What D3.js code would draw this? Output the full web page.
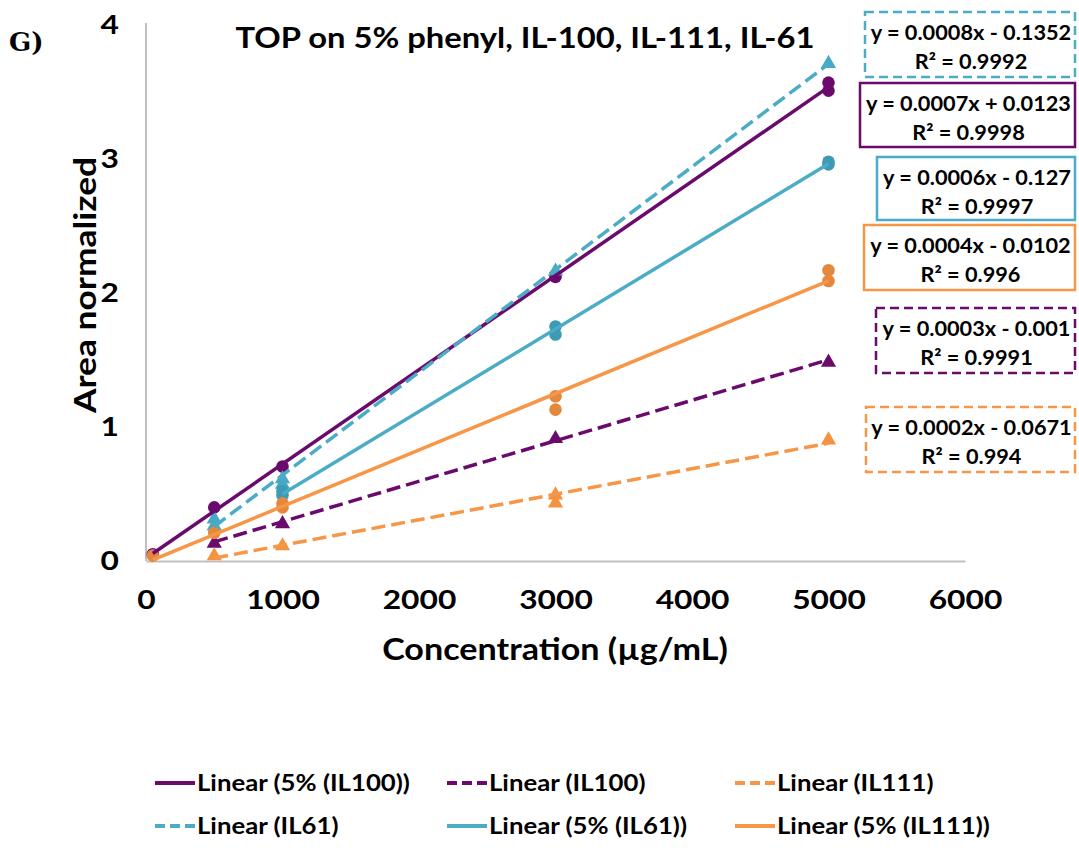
<!DOCTYPE html>
<html>
<head>
<meta charset="utf-8">
<script src="https://cdn.jsdelivr.net/npm/d3@7/dist/d3.min.js"></script>
<style>
  body { margin: 0; background: #fff; }
  svg { display: block; font-family: Lato, "Open Sans", sans-serif; font-weight: bold; }
</style>
</head>
<body>
<svg id="chart" width="1079" height="863"></svg>
<script>
// concentration (ug/mL) vs normalized area, replicate injections kept as separate points
var il100_5_x = [50, 500, 1000, 3000, 5000, 5000];
var il100_5_y = [0.05, 0.40, 0.705, 2.12, 3.51, 3.57];

var il100_x = [500, 1000, 3000, 5000];
var il100_y = [0.14, 0.285, 0.92, 1.49];

var il111_x = [500, 1000, 3000, 3000, 5000];
var il111_y = [0.045, 0.12, 0.50, 0.44, 0.91];

var il61_x = [500, 500, 1000, 1000, 3000, 5000];
var il61_y = [0.32, 0.27, 0.62, 0.58, 2.17, 3.72];

var il61_5_x = [1000, 1000, 3000, 3000, 5000, 5000];
var il61_5_y = [0.49, 0.52, 1.75, 1.69, 2.98, 2.96];

var il111_5_x = [50, 500, 1000, 1000, 3000, 3000, 5000, 5000];
var il111_5_y = [0.04, 0.21, 0.40, 0.43, 1.23, 1.13, 2.17, 2.09];

var seriesNames = ["5% (IL100)", "IL100", "IL111", "IL61", "5% (IL61)", "5% (IL111)"];

// trendline equations as printed next to the plot
var eqLabels = ["y = 0.0007x + 0.0123", "y = 0.0003x - 0.001", "y = 0.0002x - 0.0671",
                "y = 0.0008x - 0.1352", "y = 0.0006x - 0.127", "y = 0.0004x - 0.0102"];
var r2Labels = ["R² = 0.9998", "R² = 0.9991", "R² = 0.994",
                "R² = 0.9992", "R² = 0.9997", "R² = 0.996"];

var xTicks = [0, 1000, 2000, 3000, 4000, 5000, 6000];
var yTicks = [0, 1, 2, 3, 4];

var purple = "#6b0a6d", cyan = "#4bacc6", orange = "#f79646";

var series = [
  { name: seriesNames[0], xs: il100_5_x, ys: il100_5_y, color: purple, mark: "#6b0a6d", dashed: false, shape: "circle" },
  { name: seriesNames[1], xs: il100_x,   ys: il100_y,   color: purple, mark: "#6b0a6d", dashed: true,  shape: "triangle" },
  { name: seriesNames[2], xs: il111_x,   ys: il111_y,   color: orange, mark: "#f5923f", dashed: true,  shape: "triangle" },
  { name: seriesNames[3], xs: il61_x,    ys: il61_y,    color: cyan,   mark: "#48a9c4", dashed: true,  shape: "triangle" },
  { name: seriesNames[4], xs: il61_5_x,  ys: il61_5_y,  color: cyan,   mark: "#3d9bb5", dashed: false, shape: "circle" },
  { name: seriesNames[5], xs: il111_5_x, ys: il111_5_y, color: orange, mark: "#e3883c", dashed: false, shape: "circle" }
];
series.forEach(function(s, i) { s.eq = eqLabels[i]; s.r2 = r2Labels[i]; });

// equation boxes, top to bottom: [series index, left, top, bottom]
var boxes = [[3, 865, 12, 77], [0, 860, 83, 147], [4, 877, 157, 220],
             [5, 864, 225, 290], [1, 876, 308, 373], [2, 866, 407, 472]];
var boxRight = 1075;

var svg = d3.select("#chart");

var x = d3.scaleLinear().domain([0, 6000]).range([146, 965]);
var y = d3.scaleLinear().domain([0, 4]).range([561, 25]);

// least squares fit, same as the spreadsheet trendline
function fit(xs, ys) {
  var mx = d3.mean(xs), my = d3.mean(ys), sxx = 0, sxy = 0;
  xs.forEach(function(v, i) { sxx += (v - mx) * (v - mx); sxy += (v - mx) * (ys[i] - my); });
  var b = sxy / sxx;
  return { slope: b, intercept: my - b * mx };
}

// the labels are set in a wide face, so stretch the glyphs sideways
function widen(sel, k) {
  sel.each(function() {
    var w = this.getComputedTextLength();
    d3.select(this).attr("textLength", w * k).attr("lengthAdjust", "spacingAndGlyphs");
  });
}

// axes
var xAxis = svg.append("g")
  .attr("transform", "translate(0," + y(0) + ")")
  .call(d3.axisBottom(x).tickValues(xTicks).tickSize(0).tickPadding(30).tickFormat(d3.format("d")));
var yAxis = svg.append("g")
  .attr("transform", "translate(" + x(0) + ",0)")
  .call(d3.axisLeft(y).tickValues(yTicks).tickSize(0).tickPadding(27).tickFormat(d3.format("d")));

[xAxis, yAxis].forEach(function(a) {
  a.select(".domain").attr("stroke", "#c0c0c0").attr("stroke-width", 2);
  a.selectAll("text").attr("font-size", 26).attr("font-family", "Lato").attr("font-weight", "bold").attr("fill", "#000");
  widen(a.selectAll("text"), 1.22);
});
yAxis.select(".domain").attr("d", "M0," + y(0) + "V" + (y(4) - 2));

// markers
var triangle = d3.symbol().type(d3.symbolTriangle).size(100);
series.forEach(function(s) {
  var pts = s.xs.map(function(v, i) { return [v, s.ys[i]]; });
  var g = svg.append("g");
  if (s.shape === "circle") {
    g.selectAll("circle").data(pts).enter().append("circle")
      .attr("cx", function(d) { return x(d[0]); })
      .attr("cy", function(d) { return y(d[1]); })
      .attr("r", 6.3)
      .attr("fill", s.mark);
  } else {
    g.selectAll("path").data(pts).enter().append("path")
      .attr("d", triangle)
      .attr("transform", function(d) { return "translate(" + x(d[0]) + "," + (y(d[1]) + 1) + ")"; })
      .attr("fill", s.mark);
  }
});

// trendlines over the measured range
series.forEach(function(s) {
  var f = fit(s.xs, s.ys);
  var ends = d3.extent(s.xs).map(function(v) { return [v, f.intercept + f.slope * v]; });
  svg.append("path")
    .datum(ends)
    .attr("d", d3.line().x(function(d) { return x(d[0]); }).y(function(d) { return y(d[1]); }))
    .attr("fill", "none")
    .attr("stroke", s.color)
    .attr("stroke-width", 3.5)
    .attr("stroke-dasharray", s.dashed ? "14,6" : null);
});

// equation boxes
boxes.forEach(function(b) {
  var s = series[b[0]];
  var g = svg.append("g");
  g.append("rect")
    .attr("x", b[1]).attr("y", b[2])
    .attr("width", boxRight - b[1]).attr("height", b[3] - b[2])
    .attr("fill", "#fff")
    .attr("stroke", s.color)
    .attr("stroke-width", 2.5)
    .attr("stroke-dasharray", s.dashed ? "9,5" : null);
  var cx = (b[1] + boxRight) / 2 + 1;
  g.append("text").attr("x", cx).attr("y", b[2] + 28)
    .attr("text-anchor", "middle").attr("font-size", 20.5).text(s.eq);
  g.append("text").attr("x", cx).attr("y", b[2] + 57)
    .attr("text-anchor", "middle").attr("font-size", 20.5).text(s.r2);
  widen(g.selectAll("text"), 1.06);
});

// titles
var title = svg.append("text").attr("x", 525).attr("y", 48).attr("text-anchor", "middle")
  .attr("font-size", 28).text("TOP on 5% phenyl, IL-100, IL-111, IL-61");
widen(title, 1.17);
var xTitle = svg.append("text").attr("x", 555).attr("y", 660).attr("text-anchor", "middle")
  .attr("font-size", 31).text("Concentration (µg/mL)");
widen(xTitle, 1.1);
var yTitle = svg.append("text").attr("transform", "translate(96,285) rotate(-90)").attr("text-anchor", "middle")
  .attr("font-size", 31).text("Area normalized");
widen(yTitle, 1.14);
svg.append("text").attr("x", 9).attr("y", 51)
  .attr("font-family", "'DejaVu Serif', serif").attr("font-size", 26).text("G)");

// legend, two rows of three
var legendOrder = [0, 1, 2, 3, 4, 5];
var colX = [155, 447, 735];
var rowY = [783, 826];
legendOrder.forEach(function(si, k) {
  var s = series[si];
  var lx = colX[k % 3], ly = rowY[Math.floor(k / 3)];
  svg.append("line")
    .attr("x1", lx).attr("x2", lx + 40).attr("y1", ly).attr("y2", ly)
    .attr("stroke", s.color).attr("stroke-width", 4)
    .attr("stroke-dasharray", s.dashed ? "10,5" : null);
  var t = svg.append("text").attr("x", lx + 42).attr("y", ly + 8)
    .attr("font-size", 22).text("Linear (" + s.name + ")");
  widen(t, 1.17);
});
</script>
</body>
</html>
